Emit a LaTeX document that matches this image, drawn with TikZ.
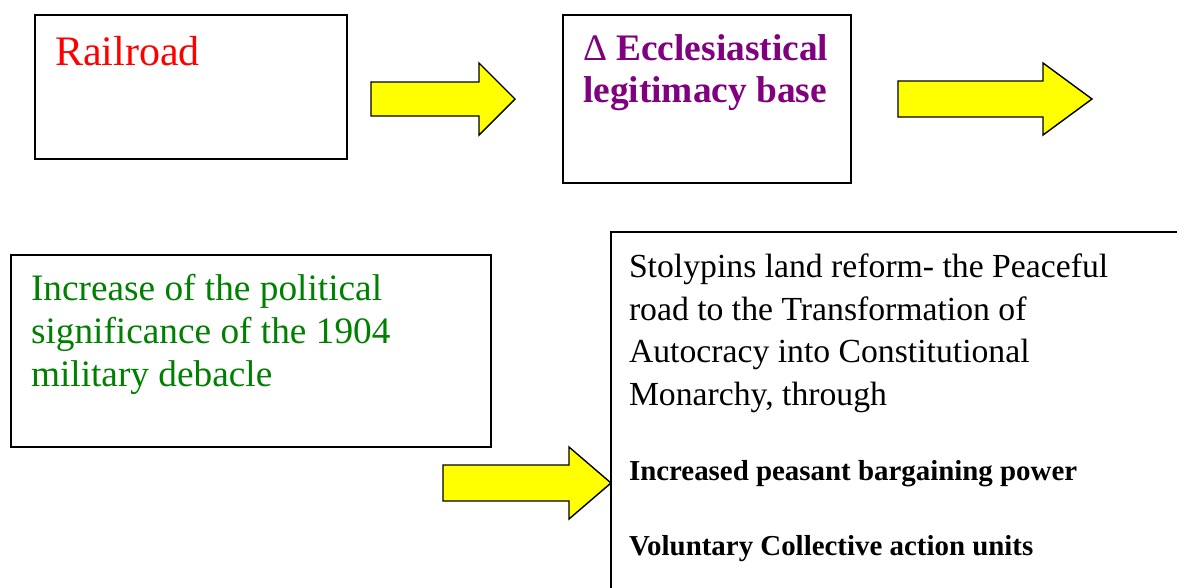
\documentclass[tikz,border=0pt]{standalone}
\usepackage{fontspec}
\setmainfont{Liberation Serif}
\definecolor{rred}{RGB}{255,0,0}
\definecolor{rpurple}{RGB}{128,0,128}
\definecolor{rgreen}{RGB}{0,128,0}
\definecolor{ryellow}{RGB}{255,255,0}
\tikzset{
  boxframe/.style={draw=black,line width=1.6pt,fill=white},
  blockarrow/.style={draw=black,line width=1.4pt,fill=ryellow,line join=miter},
  txt/.style={anchor=base west,inner sep=0pt,outer sep=0pt},
}
\begin{document}
\begin{tikzpicture}[x=1pt,y=-1pt]
\useasboundingbox (0,0) rectangle (1177,587);
% boxes
\draw[boxframe] (35,15) rectangle (347,159);
\draw[boxframe] (563,15) rectangle (851,183);
\draw[boxframe] (11,255) rectangle (491,447);
\draw[boxframe] (611,600) -- (611,232) -- (1190,232);
% block arrows
\coordinate (a1) at (371,99);
\coordinate (a2) at (898,99);
\coordinate (a3) at (443,483);
\draw[blockarrow] (a1) ++(0,-17) -- ++(108,0) -- ++(0,-19) -- ++(36,36) -- ++(-36,36) -- ++(0,-19) -- ++(-108,0) -- cycle;
\draw[blockarrow] (a2) ++(0,-18) -- ++(145,0) -- ++(0,-18) -- ++(49,36) -- ++(-49,36) -- ++(0,-18) -- ++(-145,0) -- cycle;
\draw[blockarrow] (a3) ++(0,-18) -- ++(126,0) -- ++(0,-18) -- ++(42,36) -- ++(-42,36) -- ++(0,-18) -- ++(-126,0) -- cycle;
% texts
\node[txt,text=rred,font=\fontsize{42}{50}\selectfont] (rail) at (55,65) {Railroad};
\node[txt,text=rpurple,font=\fontsize{37.4}{42}\bfseries] (ecc1) at (583,60) {\selectfont{\mdseries Δ} Ecclesiastical};
\node[txt,text=rpurple,font=\fontsize{37.4}{42}\bfseries] (ecc2) at (583,102) {\selectfont legitimacy base};
\node[txt,text=rgreen,font=\fontsize{37.3}{43}\selectfont] (g1) at (31,300) {Increase of the political};
\node[txt,text=rgreen,font=\fontsize{37.3}{43}\selectfont] (g2) at (31,343) {significance of the 1904};
\node[txt,text=rgreen,font=\fontsize{37.3}{43}\selectfont] (g3) at (31,386) {military debacle};
\node[txt,font=\fontsize{33.7}{43}\selectfont] (s1) at (629,277) {Stolypins land reform- the Peaceful};
\node[txt,font=\fontsize{33.7}{43}\selectfont] (s2) at (629,320) {road to the Transformation of};
\node[txt,font=\fontsize{33.7}{43}\selectfont] (s3) at (629,362) {Autocracy into Constitutional};
\node[txt,font=\fontsize{33.7}{43}\selectfont] (s4) at (629,405) {Monarchy, through};
\node[txt,font=\fontsize{28.9}{34}\bfseries] (b1) at (629,480) {\selectfont Increased peasant bargaining power};
\node[txt,font=\fontsize{28.9}{34}\bfseries] (b2) at (629,555) {\selectfont Voluntary Collective action units};
\end{tikzpicture}
\end{document}
